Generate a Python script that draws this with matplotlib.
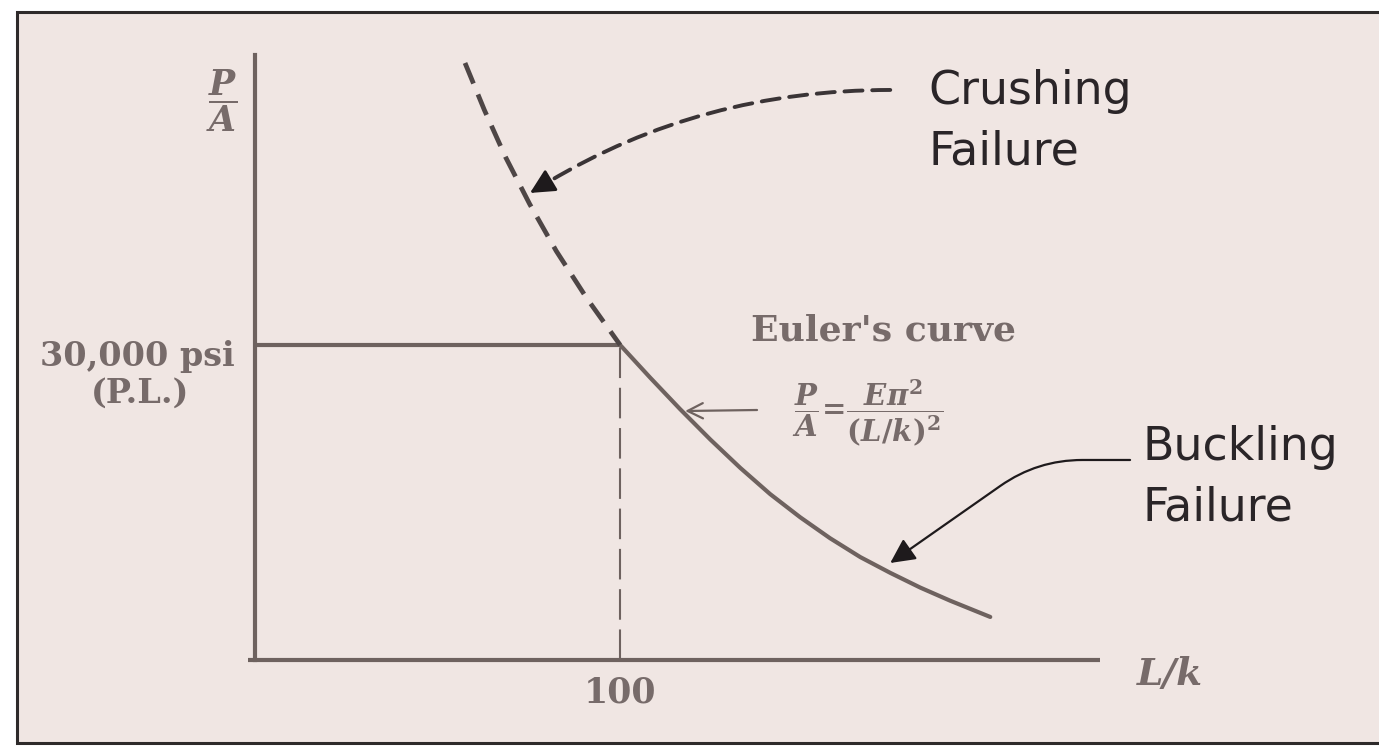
import matplotlib.pyplot as plt
from matplotlib.patches import Rectangle

# bold italic serif maths, like the textbook figure
plt.rcParams['mathtext.fontset'] = 'custom'
plt.rcParams['mathtext.rm'] = 'DejaVu Serif:bold'
plt.rcParams['mathtext.it'] = 'DejaVu Serif:italic:bold'
plt.rcParams['mathtext.bf'] = 'DejaVu Serif:bold'
plt.rcParams['lines.scale_dashes'] = False

# values: slenderness ratio L/k and stress P/A (psi)
pl_lk = [0, 100]
pl_pa = [30000, 30000]

euler_lk = [100, 108.2, 116.4, 124.7, 132.9, 141.1, 149.3, 157.5, 165.8,
            174.0, 182.2, 190.4, 201.4]
euler_pa = [30000, 26900, 23900, 21000, 18300, 15800, 13600, 11600, 9800,
            8300, 6900, 5650, 4100]

crush_lk = [57.5, 62.8, 68.6, 75.2, 82.5, 90.8, 100]
crush_pa = [56860, 52380, 47900, 43430, 38950, 34480, 30000]

tick_lk = [100]
tick_labels = ['100']
pl_labels = ['30,000 psi', '(P.L.)']

paper = '#f0e6e3'
ink = '#6e625f'
grey_txt = '#776b6a'
dark = '#2a2528'

fig = plt.figure(figsize=(13.79, 7.46), dpi=100, facecolor='white')

ax = fig.add_axes([0, 0, 1, 1])
ax.set_facecolor('none')
ax.set_xlim(-69.9, 307.9)
ax.set_ylim(-8190, 62857)
ax.axis('off')

# scanned page with its frame (right edge cut off)
ax.add_patch(Rectangle((17 / 1379, 3 / 746), 1.0, 731 / 746,
                       transform=ax.transAxes, facecolor=paper,
                       edgecolor='#2e2a2a', lw=2.2, zorder=0, clip_on=False))

# axes lines
ax.plot([0, 0], [0, 57600], color=ink, lw=3.0, solid_capstyle='projecting')
ax.plot([-2, 231.5], [0, 0], color=ink, lw=3.0, solid_capstyle='butt')

# curves
ax.plot(pl_lk, pl_pa, color=ink, lw=3.0, solid_capstyle='butt')
ax.plot(euler_lk, euler_pa, color=ink, lw=3.0, solid_capstyle='round',
        solid_joinstyle='round')
ax.plot(crush_lk, crush_pa, color='#4e4646', lw=3.4, dashes=(16, 8.5))
ax.plot([tick_lk[0], tick_lk[0]], [0, pl_pa[0]], color=ink, lw=1.5,
        dashes=(22, 7))

# crushing arrow: dashed curved shaft plus a solid head
ax.annotate('', xy=(80.3, 45520), xytext=(174.0, 54290),
            arrowprops=dict(arrowstyle='-', color='#3a3436', lw=2.8,
                            linestyle=(0, (13, 7)),
                            connectionstyle='angle3,angleA=0,angleB=31',
                            shrinkA=0, shrinkB=0))
ax.annotate('', xy=(75.3, 44480), xytext=(80.3, 45520),
            arrowprops=dict(arrowstyle='-|>,head_length=0.6,head_width=0.3',
                            mutation_scale=25, color='#1e1a1c', lw=2,
                            shrinkA=0, shrinkB=0))

# buckling arrow
ax.annotate('', xy=(174.0, 9240), xytext=(239.7, 19050),
            arrowprops=dict(arrowstyle='-|>,head_length=0.6,head_width=0.3',
                            mutation_scale=25, color='#1e1a1c', lw=1.6,
                            connectionstyle='angle,angleA=0,angleB=35,rad=45',
                            shrinkA=0, shrinkB=0))

# Euler formula arrow
ax.annotate('', xy=(117.8, 23714), xytext=(137.5, 23810),
            arrowprops=dict(arrowstyle='->,head_length=0.5,head_width=0.25',
                            mutation_scale=22, color=ink, lw=1.6,
                            shrinkA=0, shrinkB=0))

# text
ax.text(-9, 53300, r'$\dfrac{P}{A}$', fontsize=25, color=grey_txt,
        ha='center', va='center')
ax.text(-32.3, 28900, pl_labels[0], family='DejaVu Serif', weight='bold',
        fontsize=24, color=grey_txt, ha='center', va='center')
ax.text(-31.5, 25400, pl_labels[1], family='DejaVu Serif', weight='bold',
        fontsize=24, color=grey_txt, ha='center', va='center')
for lk, lab in zip(tick_lk, tick_labels):
    ax.text(lk, -3100, lab, family='DejaVu Serif', weight='bold', fontsize=25,
            color=grey_txt, ha='center', va='center')
ax.text(250.7, -1400, 'L/k', family='DejaVu Serif', weight='bold',
        style='italic', fontsize=27, color=grey_txt, ha='center', va='center')
ax.text(172.1, 31400, "Euler's curve", family='DejaVu Serif', weight='bold',
        fontsize=26, color=grey_txt, ha='center', va='center')
ax.text(167.7, 23600, r'$\dfrac{P}{A}\!=\!\dfrac{E\pi^2}{(L/k)^2}$',
        fontsize=21, color=grey_txt, ha='center', va='center')

ax.text(184.4, 52950, 'Crushing', family='DejaVu Sans', fontsize=33,
        color=dark, ha='left', va='baseline')
ax.text(184.4, 47150, 'Failure', family='DejaVu Sans', fontsize=33,
        color=dark, ha='left', va='baseline')
ax.text(243.0, 19050, 'Buckling', family='DejaVu Sans', fontsize=33,
        color=dark, ha='left', va='baseline')
ax.text(243.0, 13330, 'Failure', family='DejaVu Sans', fontsize=33,
        color=dark, ha='left', va='baseline')

plt.savefig('out.png', dpi=100, facecolor=fig.get_facecolor())
